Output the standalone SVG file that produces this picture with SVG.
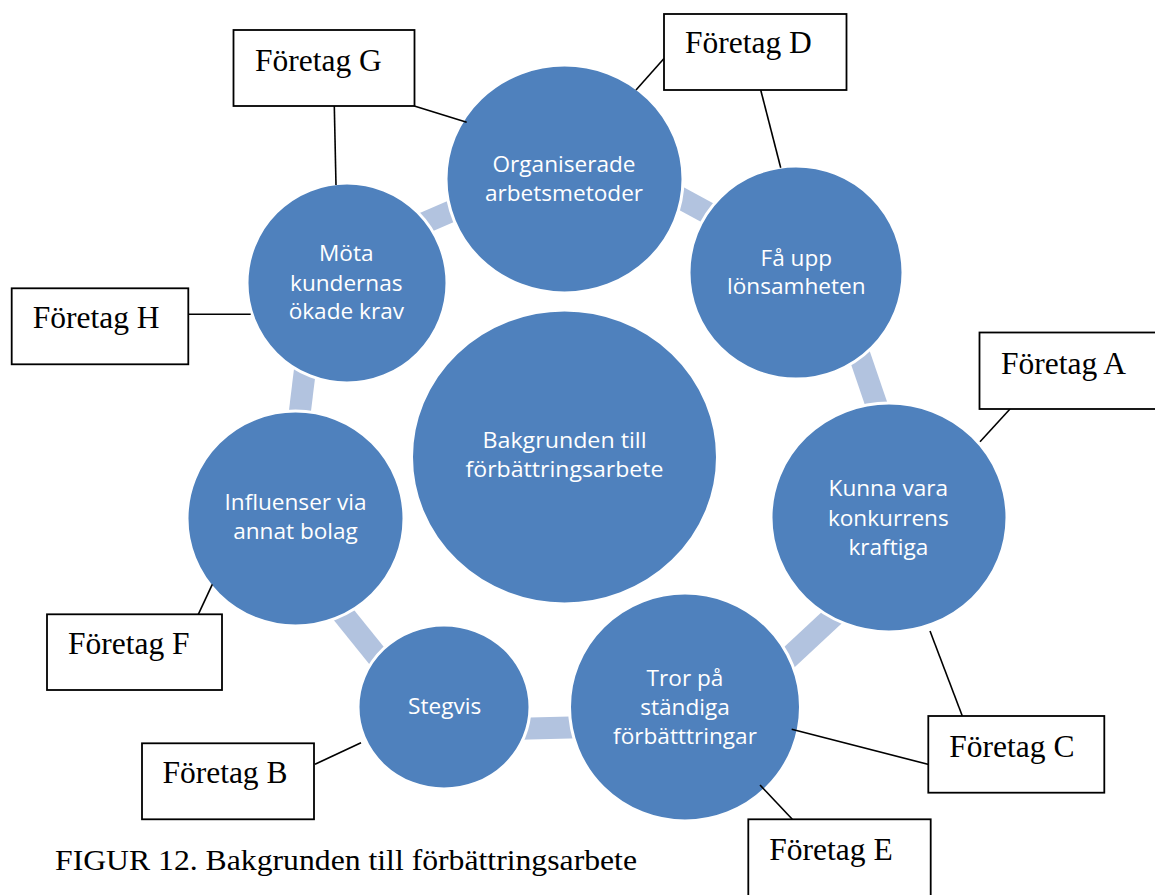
<svg xmlns="http://www.w3.org/2000/svg" width="1155" height="895" viewBox="0 0 1155 895">
<style>
.bg{fill:#ffffff}
.ring{stroke:#B2C3DF;stroke-width:22;stroke-linecap:butt;fill:none}
.c{fill:#4F81BD;stroke:#ffffff;stroke-width:3}
.ct{font-family:"Open Sans","Liberation Sans",sans-serif;font-size:22.6px;fill:#ffffff;text-anchor:middle}
.box{fill:#ffffff;stroke:#000000;stroke-width:1.8}
.bt{font-family:"Liberation Serif","Times New Roman",serif;font-size:31.5px;fill:#000000}
.lead{stroke:#000000;stroke-width:1.6;fill:none}
.cap{font-family:"Liberation Serif","Times New Roman",serif;font-size:29.5px;fill:#000000}
</style>
<rect class="bg" x="0" y="0" width="1155" height="895"/>
<g id="connectors">
<line class="ring" x1="401" y1="233" x2="475" y2="201"/>
<line class="ring" x1="660" y1="187" x2="730" y2="225"/>
<line class="ring" x1="855" y1="342" x2="881" y2="418"/>
<line class="ring" x1="840" y1="610" x2="782" y2="664"/>
<line class="ring" x1="590" y1="727" x2="510" y2="729"/>
<line class="ring" x1="385" y1="666" x2="335" y2="604"/>
<line class="ring" x1="298" y1="427" x2="307" y2="353"/>
</g>
<g id="node-center"><ellipse class="c" cx="564.5" cy="457" rx="153" ry="147"/><text class="ct" x="564.5" y="448.3" textLength="164" lengthAdjust="spacingAndGlyphs">Bakgrunden till</text><text class="ct" x="564.5" y="477.3" textLength="198" lengthAdjust="spacingAndGlyphs">förbättringsarbete</text></g>
<g id="node-organiserade"><ellipse class="c" cx="564.5" cy="179" rx="118.5" ry="114"/><text class="ct" x="564" y="171.7">Organiserade</text><text class="ct" x="564" y="200.7">arbetsmetoder</text></g>
<g id="node-fa-upp"><ellipse class="c" cx="796" cy="272.5" rx="107" ry="106.5"/><text class="ct" x="796.3" y="265.7">Få upp</text><text class="ct" x="796.3" y="294.3">lönsamheten</text></g>
<g id="node-kunna"><ellipse class="c" cx="889" cy="517.5" rx="118" ry="114.5"/><text class="ct" x="888.3" y="496">Kunna vara</text><text class="ct" x="888.3" y="525.7">konkurrens</text><text class="ct" x="888.3" y="555">kraftiga</text></g>
<g id="node-tror"><ellipse class="c" cx="685" cy="707" rx="115.5" ry="114"/><text class="ct" x="685" y="686">Tror på</text><text class="ct" x="685" y="715">ständiga</text><text class="ct" x="685" y="744">förbätttringar</text></g>
<g id="node-stegvis"><ellipse class="c" cx="444" cy="707" rx="86" ry="82"/><text class="ct" x="444.7" y="714">Stegvis</text></g>
<g id="node-influenser"><ellipse class="c" cx="295.5" cy="518.5" rx="108.5" ry="107.5"/><text class="ct" x="295.5" y="510">Influenser via</text><text class="ct" x="295.5" y="538.7">annat bolag</text></g>
<g id="node-mota"><ellipse class="c" cx="347" cy="283" rx="100" ry="100"/><text class="ct" x="346.3" y="261">Möta</text><text class="ct" x="346.3" y="290.7">kundernas</text><text class="ct" x="346.3" y="319.3">ökade krav</text></g>
<g id="leaders">
<line class="lead" x1="334.3" y1="106" x2="336" y2="185"/>
<line class="lead" x1="414.3" y1="106" x2="466.7" y2="122.3"/>
<line class="lead" x1="664" y1="58.5" x2="636" y2="90"/>
<line class="lead" x1="760.7" y1="90" x2="780.7" y2="167.7"/>
<line class="lead" x1="1010" y1="409" x2="980" y2="441.7"/>
<line class="lead" x1="930" y1="631" x2="962.3" y2="716"/>
<line class="lead" x1="791.7" y1="729.3" x2="930.7" y2="765"/>
<line class="lead" x1="760" y1="785" x2="792.3" y2="819.3"/>
<line class="lead" x1="188.3" y1="314.3" x2="250.7" y2="314.3"/>
<line class="lead" x1="198.3" y1="614.3" x2="212.3" y2="584.3"/>
<line class="lead" x1="315" y1="764.3" x2="361" y2="742.7"/>
</g>
<g id="box-g"><rect class="box" x="233.5" y="30" width="181" height="76"/><text class="bt" x="255" y="70.7">Företag G</text></g>
<g id="box-d"><rect class="box" x="664" y="14" width="182.5" height="76"/><text class="bt" x="685" y="53.3">Företag D</text></g>
<g id="box-a"><rect class="box" x="979.5" y="332.5" width="190" height="76.5"/><text class="bt" x="1001" y="373.5">Företag A</text></g>
<g id="box-h"><rect class="box" x="11.7" y="288.3" width="176.6" height="76"/><text class="bt" x="32.7" y="328.3">Företag H</text></g>
<g id="box-f"><rect class="box" x="47" y="614.3" width="175" height="75.7"/><text class="bt" x="68" y="654">Företag F</text></g>
<g id="box-b"><rect class="box" x="142" y="743.3" width="172" height="76"/><text class="bt" x="162.4" y="783.3">Företag B</text></g>
<g id="box-c"><rect class="box" x="928.3" y="716" width="176" height="76.7"/><text class="bt" x="949.3" y="756.7">Företag C</text></g>
<g id="box-e"><rect class="box" x="748.3" y="819.3" width="182.4" height="100"/><text class="bt" x="769.3" y="860">Företag E</text></g>
<text class="cap" x="55" y="870" textLength="582" lengthAdjust="spacingAndGlyphs">FIGUR 12. Bakgrunden till förbättringsarbete</text>
</svg>
